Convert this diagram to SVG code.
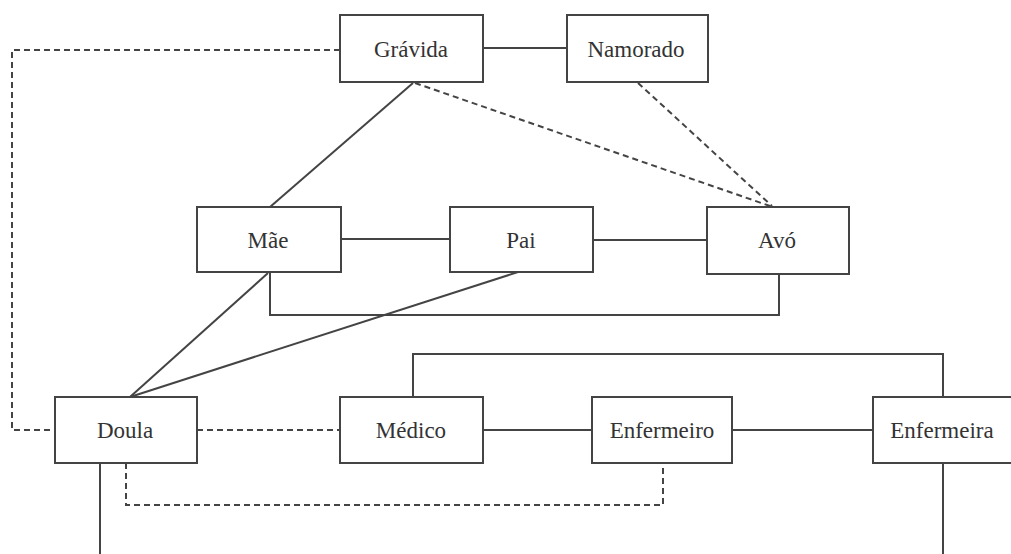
<svg xmlns="http://www.w3.org/2000/svg" width="1011" height="554" viewBox="0 0 1011 554">
<style>
.box{fill:#fff;stroke:#444;stroke-width:2}
.lbl{font-family:'Liberation Serif','DejaVu Serif','Times New Roman',serif;font-size:23px;fill:#333;text-anchor:middle}
.s{fill:none;stroke:#444;stroke-width:2}
.d{fill:none;stroke:#444;stroke-width:2;stroke-dasharray:6 4}
</style>
<rect width="1011" height="554" fill="#fff"/>
<g id="connectors">
<line class="s" x1="483" y1="48" x2="567" y2="48"/>
<polyline class="d" points="340,50 12,50 12,430 55,430"/>
<line class="s" x1="413" y1="83" x2="270" y2="207"/>
<line class="d" x1="415" y1="83" x2="770" y2="206"/>
<line class="d" x1="638" y1="83" x2="772" y2="206"/>
<line class="s" x1="341" y1="239" x2="450" y2="239"/>
<line class="s" x1="593" y1="240" x2="707" y2="240"/>
<polyline class="s" points="270,272 270,315 779,315 779,274"/>
<line class="s" x1="268" y1="273" x2="130" y2="397"/>
<line class="s" x1="518" y1="272" x2="130" y2="397"/>
<polyline class="s" points="413,397 413,354 943,354 943,397"/>
<line class="d" x1="197" y1="430" x2="340" y2="430"/>
<line class="s" x1="483" y1="430" x2="592" y2="430"/>
<line class="s" x1="732" y1="430" x2="873" y2="430"/>
<polyline class="d" points="126,463 126,505 663,505 663,463"/>
<line class="s" x1="100" y1="463" x2="100" y2="554"/>
<line class="s" x1="943" y1="463" x2="943" y2="554"/>
</g>
<g id="gravida"><rect class="box" x="340" y="15" width="143" height="67"/><text class="lbl" x="411" y="57" font-family="Liberation Serif">Grávida</text></g>
<g id="namorado"><rect class="box" x="567" y="15" width="141" height="67"/><text class="lbl" x="636" y="57" font-family="Liberation Serif">Namorado</text></g>
<g id="mae"><rect class="box" x="197" y="207" width="144" height="65"/><text class="lbl" x="268" y="248" font-family="Liberation Serif">Mãe</text></g>
<g id="pai"><rect class="box" x="450" y="207" width="143" height="65"/><text class="lbl" x="521" y="248" font-family="Liberation Serif">Pai</text></g>
<g id="avo"><rect class="box" x="707" y="207" width="142" height="67"/><text class="lbl" x="777" y="248" font-family="Liberation Serif">Avó</text></g>
<g id="doula"><rect class="box" x="55" y="397" width="142" height="66"/><text class="lbl" x="125" y="438" font-family="Liberation Serif">Doula</text></g>
<g id="medico"><rect class="box" x="340" y="397" width="143" height="66"/><text class="lbl" x="411" y="438" font-family="Liberation Serif">Médico</text></g>
<g id="enfermeiro"><rect class="box" x="592" y="397" width="140" height="66"/><text class="lbl" x="662" y="438" font-family="Liberation Serif">Enfermeiro</text></g>
<g id="enfermeira"><rect class="box" x="873" y="397" width="145" height="66"/><text class="lbl" x="942" y="438" font-family="Liberation Serif">Enfermeira</text></g>
</svg>
